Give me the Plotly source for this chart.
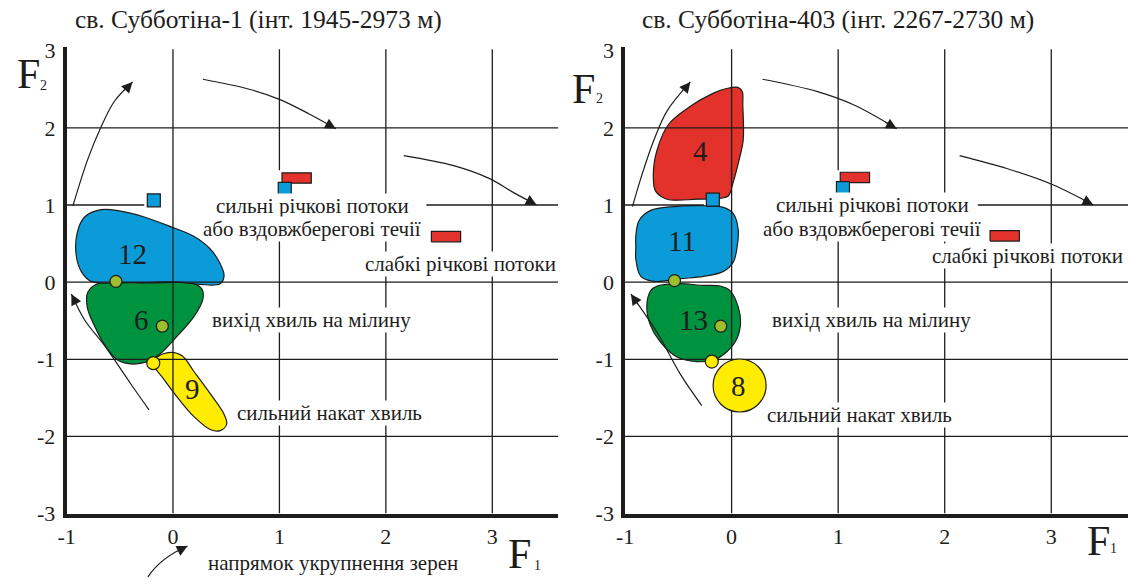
import plotly.graph_objects as go

SERIF = "Liberation Serif, Times New Roman, DejaVu Serif, serif"
INK = "#1d1d1b"
BLUE = "#0a9bd8"
GREEN = "#00933f"
RED = "#e3322b"
YELLOW = "#ffec00"
OLIVE = "#9dbf2e"

W, H = 1128, 588

PANEL_TITLES = ["св. Субботіна-1 (інт. 1945-2973 м)",
                "св. Субботіна-403 (інт. 2267-2730 м)"]
X_TICKS = [-1, 0, 1, 2, 3]
Y_TICKS = [-3, -2, -1, 0, 1, 2, 3]
GRID_X = [0, 1, 2, 3]
GRID_Y = [-2, -1, 0, 1, 2]

# ---- field outlines in (F1, F2), well Субботіна-1 ----
FIELD12_X = [-0.396, 0.07, 0.256, 0.443, 0.48, 0.443, 0.35, 0.195, -0.023, -0.271,
             -0.49, -0.676, -0.83, -0.90, -0.909, -0.862, -0.77, -0.396]
FIELD12_Y = [-0.005, 0.0, -0.03, -0.02, 0.085, 0.24, 0.43, 0.595, 0.72, 0.845,
             0.92, 0.94, 0.845, 0.64, 0.345, 0.14, 0.01, -0.005]
FIELD6_X = [-0.24, 0.195, 0.272, 0.281, 0.195, 0.039, -0.117, -0.24, -0.396, -0.52,
            -0.63, -0.737, -0.806, -0.80, -0.706, -0.24]
FIELD6_Y = [-0.01, -0.02, -0.09, -0.22, -0.45, -0.70, -0.925, -1.03, -1.06, -1.01,
            -0.84, -0.57, -0.32, -0.13, -0.02, -0.01]
FIELD9_X = [0.35, 0.474, 0.505, 0.443, 0.35, 0.195, 0.04, -0.085, -0.178, -0.147,
            -0.023, 0.086, 0.195, 0.35]
FIELD9_Y = [-1.446, -1.696, -1.84, -1.925, -1.91, -1.74, -1.49, -1.26, -1.07, -0.97,
            -0.91, -0.955, -1.155, -1.446]

# ---- field outlines, well Субботіна-403 ----
FIELD4_X = [-0.698, -0.589, -0.387, -0.17, -0.047, 0.06, 0.10, 0.105, 0.109, 0.072,
            0.016, -0.031, -0.108, -0.326, -0.605, -0.713, -0.735, -0.698]
FIELD4_Y = [1.72, 2.05, 2.28, 2.45, 2.51, 2.525, 2.47, 2.30, 1.845, 1.595,
            1.30, 1.116, 1.087, 1.075, 1.075, 1.18, 1.39, 1.72]
FIELD11_X = [-0.899, -0.899, -0.868, -0.759, -0.542, -0.263, -0.077, 0.016, 0.062, 0.053,
             0.016, -0.077, -0.263, -0.48, -0.728, -0.852, -0.899, -0.899]
FIELD11_Y = [0.45, 0.595, 0.80, 0.93, 0.98, 0.99, 0.97, 0.89, 0.68, 0.47,
             0.26, 0.14, 0.075, 0.045, 0.01, 0.075, 0.30, 0.45]
FIELD13_X = [-0.796, -0.759, -0.666, -0.512, -0.326, -0.17, -0.047, 0.047, 0.084, 0.062,
             -0.015, -0.108, -0.294, -0.48, -0.698, -0.759, -0.796]
FIELD13_Y = [-0.32, -0.57, -0.78, -0.97, -1.03, -1.01, -0.905, -0.74, -0.53, -0.32,
             -0.11, -0.05, -0.04, -0.02, -0.05, -0.11, -0.32]
FIELD8_CENTER = (0.075, -1.34)

# field numbers: (text, F1, F2)
LABELS_L = [("12", -0.38, 0.37), ("6", -0.30, -0.49), ("9", 0.18, -1.38)]
LABELS_R = [("4", -0.288, 1.70), ("11", -0.465, 0.53), ("13", -0.356, -0.49), ("8", 0.062, -1.34)]

# reference points
OLIVE_L_X, OLIVE_L_Y = [-0.536, -0.10], [0.01, -0.57]
OLIVE_R_X, OLIVE_R_Y = [-0.536, -0.102], [0.02, -0.57]
YDOT_L, YDOT_R = (-0.185, -1.05), (-0.186, -1.03)
BLUE_SQ_L_X, BLUE_SQ_L_Y = [-0.18, 1.05], [1.06, 1.21]
BLUE_SQ_R_X, BLUE_SQ_R_Y = [-0.176, 1.045], [1.07, 1.22]
RED_BAR_L_X, RED_BAR_L_Y = [1.162, 2.565], [1.35, 0.59]
RED_BAR_R_X, RED_BAR_R_Y = [1.157, 2.563], [1.357, 0.60]

# trend arrows (tail ... head)
ARROWS_L = [
    ([-0.94, -0.80, -0.676, -0.55, -0.38], [0.99, 1.595, 2.01, 2.345, 2.595]),
    ([0.281, 0.69, 1.0, 1.28, 1.53], [2.63, 2.51, 2.37, 2.18, 1.99]),
    ([2.168, 2.637, 2.97, 3.205, 3.416], [1.64, 1.51, 1.345, 1.157, 1.0]),
    ([-0.225, -0.396, -0.644, -0.83, -0.955], [-1.655, -1.32, -0.82, -0.49, -0.155]),
]
ARROWS_R = [
    ([-0.93, -0.852, -0.728, -0.605, -0.387], [0.98, 1.345, 1.845, 2.22, 2.595]),
    ([0.29, 0.806, 1.144, 1.55], [2.63, 2.47, 2.30, 1.99]),
    ([2.14, 2.59, 3.02, 3.395], [1.64, 1.47, 1.26, 1.0]),
    ([-0.28, -0.48, -0.698, -0.945], [-1.60, -1.196, -0.655, -0.155]),
]

# environment captions: (text, F1, F2)
CAPTIONS_L = [("сильні річкові потоки", 1.307, 0.99),
              ("або вздовжберегові течії", 1.31, 0.69),
              ("слабкі річкові потоки", 2.70, 0.24),
              ("вихід хвиль на мілину", 1.30, -0.49),
              ("сильний накат хвиль", 1.47, -1.69)]
CAPTIONS_R = [("сильні річкові потоки", 1.318, 1.0),
              ("або вздовжберегові течії", 1.32, 0.695),
              ("слабкі річкові потоки", 2.776, 0.34),
              ("вихід хвиль на мілину", 1.313, -0.49),
              ("сильний накат хвиль", 1.197, -1.72)]

# layout geometry (pixels)
Y_RANGE = [-3, 3.05]
X_RANGE_L = [-1, 3.62]
X_RANGE_R = [-1, 3.72]
Y_DOM = [(H - 524.3) / H, (H - 40.3) / H]
X_DOM_L = [58 / W, 553.7 / W]
X_DOM_R = [621 / W, 1.0]
GRID_TOP = 3.02
# gridline pieces hidden behind symbols
GAPS_L = {("h", 1): [(-0.27, 2.38)], ("v", 1): [(1.12, 1.45)]}
GAPS_R = {("h", 1): [(-0.26, 2.31)], ("v", 1): [(1.12, 1.45)]}

BAR_W, BAR_H = 0.275, 0.135


def split(lo, hi, gaps):
    pieces, start = [], lo
    for g0, g1 in sorted(gaps):
        pieces.append((start, g0))
        start = g1
    pieces.append((start, hi))
    return pieces


def grid_trace(xr, gaps, xa, ya):
    xs, ys = [], []
    for v in GRID_Y:
        for a, b in split(-1, xr[1], gaps.get(("h", v), [])):
            xs += [a, b, None]
            ys += [v, v, None]
    for v in GRID_X:
        for a, b in split(-3, GRID_TOP, gaps.get(("v", v), [])):
            xs += [v, v, None]
            ys += [a, b, None]
    return go.Scatter(x=xs, y=ys, mode="lines", line=dict(color=INK, width=1.3),
                      xaxis=xa, yaxis=ya, hoverinfo="skip")


def field(xs, ys, color, xa, ya):
    return go.Scatter(x=xs, y=ys, mode="lines", fill="toself", fillcolor=color,
                      line=dict(color=INK, width=1.2, shape="spline", smoothing=1.0),
                      xaxis=xa, yaxis=ya, hoverinfo="skip")


def bars(cx, cy, xa, ya):
    xs, ys = [], []
    for x, y in zip(cx, cy):
        xs += [x - BAR_W / 2, x + BAR_W / 2, x + BAR_W / 2, x - BAR_W / 2, x - BAR_W / 2, None]
        ys += [y - BAR_H / 2, y - BAR_H / 2, y + BAR_H / 2, y + BAR_H / 2, y - BAR_H / 2, None]
    return go.Scatter(x=xs, y=ys, mode="lines", fill="toself", fillcolor=RED,
                      line=dict(color=INK, width=1.2), xaxis=xa, yaxis=ya, hoverinfo="skip")


def dots(xs, ys, color, size, symbol, xa, ya):
    return go.Scatter(x=xs, y=ys, mode="markers",
                      marker=dict(color=color, size=size, symbol=symbol,
                                  line=dict(color=INK, width=1.2)),
                      xaxis=xa, yaxis=ya, hoverinfo="skip", cliponaxis=False)


def arrow_line(xs, ys, xa, ya):
    return go.Scatter(x=xs, y=ys, mode="lines",
                      line=dict(color=INK, width=1.2, shape="spline"),
                      xaxis=xa, yaxis=ya, hoverinfo="skip")


def arrow_head(xs, ys, xa, ya):
    tx, ty = xs[-1], ys[-1]
    return dict(x=tx, y=ty, ax=tx + (xs[-2] - tx) * 0.3, ay=ty + (ys[-2] - ty) * 0.3,
                xref=xa, yref=ya, axref=xa, ayref=ya, text="", showarrow=True,
                arrowhead=2, arrowsize=1.8, arrowwidth=1.2, arrowcolor=INK, standoff=0)


def paper_text(text, px, py, size):
    return dict(text=text, x=px / W, y=1 - py / H, xref="paper", yref="paper",
                xanchor="center", yanchor="middle", showarrow=False,
                font=dict(family=SERIF, size=size, color=INK))


fig = go.Figure()
annotations = []

panels = [
    dict(xa="x", ya="y", xr=X_RANGE_L, gaps=GAPS_L,
         fields=[(FIELD6_X, FIELD6_Y, GREEN), (FIELD9_X, FIELD9_Y, YELLOW),
                 (FIELD12_X, FIELD12_Y, BLUE)],
         bars=(RED_BAR_L_X, RED_BAR_L_Y), squares=(BLUE_SQ_L_X, BLUE_SQ_L_Y),
         olive=(OLIVE_L_X, OLIVE_L_Y), ydot=YDOT_L, big=None,
         arrows=ARROWS_L, labels=LABELS_L, captions=CAPTIONS_L),
    dict(xa="x2", ya="y2", xr=X_RANGE_R, gaps=GAPS_R,
         fields=[(FIELD4_X, FIELD4_Y, RED), (FIELD11_X, FIELD11_Y, BLUE),
                 (FIELD13_X, FIELD13_Y, GREEN)],
         bars=(RED_BAR_R_X, RED_BAR_R_Y), squares=(BLUE_SQ_R_X, BLUE_SQ_R_Y),
         olive=(OLIVE_R_X, OLIVE_R_Y), ydot=YDOT_R, big=FIELD8_CENTER,
         arrows=ARROWS_R, labels=LABELS_R, captions=CAPTIONS_R),
]

for p in panels:
    xa, ya = p["xa"], p["ya"]
    for xs, ys, c in p["fields"]:
        fig.add_trace(field(xs, ys, c, xa, ya))
    fig.add_trace(grid_trace(p["xr"], p["gaps"], xa, ya))
    fig.add_trace(bars(*p["bars"], xa, ya))
    fig.add_trace(dots(*p["squares"], BLUE, 13, "square", xa, ya))
    if p["big"] is not None:
        fig.add_trace(dots([p["big"][0]], [p["big"][1]], YELLOW, 53, "circle", xa, ya))
    fig.add_trace(dots(*p["olive"], OLIVE, 12, "circle", xa, ya))
    fig.add_trace(dots([p["ydot"][0]], [p["ydot"][1]], YELLOW, 13, "circle", xa, ya))
    for xs, ys in p["arrows"]:
        fig.add_trace(arrow_line(xs, ys, xa, ya))
        annotations.append(arrow_head(xs, ys, xa, ya))
    for t, x, y in p["labels"]:
        annotations.append(dict(text=t, x=x, y=y, xref=xa, yref=ya, showarrow=False,
                                xanchor="center", yanchor="middle",
                                font=dict(family=SERIF, size=29, color=INK)))
    for t, x, y in p["captions"]:
        annotations.append(dict(text=t, x=x, y=y, xref=xa, yref=ya, showarrow=False,
                                xanchor="center", yanchor="middle",
                                bgcolor="white", borderpad=0,
                                font=dict(family=SERIF, size=21, color=INK)))

# panel titles
for t, cx in zip(PANEL_TITLES, [252, 836]):
    annotations.append(paper_text(t, cx, 12, 25.5))

# axis names F1 / F2
for (fx, fy), sub, (sx, sy) in [((19.7, 68), "2", (35, 80)), ((579, 84), "2", (595, 94)),
                                ((515, 566), "1", (532.5, 578)), ((1098, 553), "1", (1113.5, 561))]:
    annotations.append(paper_text("F", fx, fy, 42))
    annotations.append(paper_text(sub, sx, sy, 14))

# grain coarsening note under the left panel
annotations.append(paper_text("напрямок укрупнення зерен", 327, 576, 21))
annotations.append(dict(x=180 / W, y=1 - 558 / H, xref="paper", yref="paper", ax=-10, ay=5,
                        text="", showarrow=True, arrowhead=2, arrowsize=1.8, arrowwidth=1.2,
                        arrowcolor=INK, standoff=0))
shapes = [dict(type="path", xref="paper", yref="paper",
               path=f"M {140 / W},{1 - 590 / H} Q {153 / W},{1 - 570 / H} {180 / W},{1 - 558 / H}",
               line=dict(color=INK, width=1.2))]

axis_common = dict(showgrid=False, zeroline=False, showline=True, linecolor=INK,
                   linewidth=3.5, ticks="", tickfont=dict(family=SERIF, size=22, color=INK),
                   fixedrange=True)
x_ticks = dict(tickvals=X_TICKS, ticktext=[str(v) for v in X_TICKS], ticklabelstandoff=0)
y_ticks = dict(tickvals=Y_TICKS, ticktext=[str(v) for v in Y_TICKS], ticklabelstandoff=3)

fig.update_layout(
    width=W, height=H, margin=dict(l=0, r=0, t=0, b=0),
    paper_bgcolor="white", plot_bgcolor="white", showlegend=False,
    xaxis=dict(domain=X_DOM_L, range=X_RANGE_L, anchor="y", **x_ticks, **axis_common),
    yaxis=dict(domain=Y_DOM, range=Y_RANGE, anchor="x", **y_ticks, **axis_common),
    xaxis2=dict(domain=X_DOM_R, range=X_RANGE_R, anchor="y2", **x_ticks, **axis_common),
    yaxis2=dict(domain=Y_DOM, range=Y_RANGE, anchor="x2", **y_ticks, **axis_common),
    annotations=annotations, shapes=shapes,
)

fig.write_html("out.html")
